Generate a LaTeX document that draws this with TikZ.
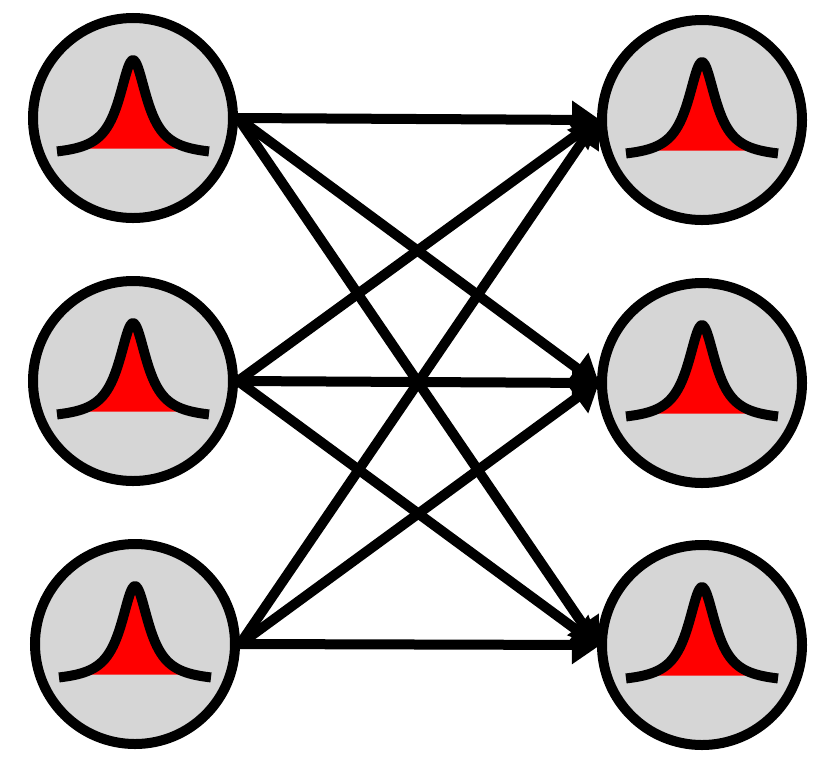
\documentclass[tikz,border=0pt]{standalone}
\usetikzlibrary{arrows.meta}
\begin{document}
\begin{tikzpicture}
		[x=0.03cm,y=-0.03cm,line cap=butt,
		%Styles
		unit/.style={circle,draw,line width=0.3cm,fill=black!16,minimum size=6cm,inner sep=0pt},
		link/.style={line width=0.3cm,-{Triangle[length=0.85cm,width=1.1cm]},shorten >=-0.1cm},
		bell/.style={line width=0.3cm,line join=round}
		]
		
		\useasboundingbox (0,0) rectangle (832,770);
		
		%The units
		\node[unit] (l1) at (133,118) {};
		\node[unit] (l2) at (133,381) {};
		\node[unit] (l3) at (135,644) {};
		\node[unit] (r1) at (702,120) {};
		\node[unit] (r2) at (702,383) {};
		\node[unit] (r3) at (702,645) {};
		
		%Peaks
		\foreach \n in {l1,l2,l3,r1,r2,r3}{
			\begin{scope}[shift={(\n)}]
				\fill[red] plot[domain=-70:70,samples=70,smooth] (\x,{36-96/(1+(\x/17)^2)}) -- cycle;
				\draw[bell] plot[domain=-76:76,samples=80,smooth] (\x,{38-96/(1+(\x/17)^2)});
			\end{scope}
		}
		
		%Links
		\foreach \a in {l1,l2,l3}
			\foreach \b in {r1,r2,r3}
				\draw[link] (\a.east) -- (\b.west);
	\end{tikzpicture}
\end{document}
